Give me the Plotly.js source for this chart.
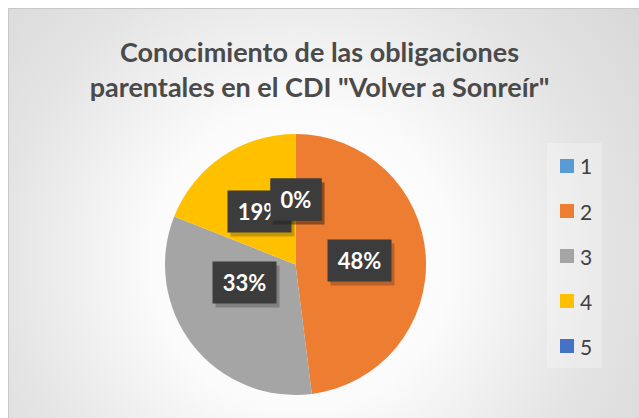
<!DOCTYPE html>
<html>
<head>
<meta charset="utf-8">
<script src="https://cdn.plot.ly/plotly-3.0.1.min.js"></script>
<style>
html,body{margin:0;padding:0;background:#ffffff;width:639px;height:418px;overflow:hidden;}
#bg{position:absolute;left:8px;top:8px;width:720px;height:500px;box-sizing:border-box;border-left:1px solid #c8c8c8;border-top:1px solid #c8c8c8;
background:radial-gradient(circle at 292px 250px,#ffffff 0px,#fbfbfb 150px,#e4e4e4 300px,#d3d3d3 470px);}
#chart{position:absolute;left:0;top:0;width:639px;height:418px;}
</style>
</head>
<body>
<div id="bg"></div>
<div id="chart"></div>
<script>
var categories = ['1', '2', '3', '4', '5'];
var values = [0, 48, 33, 19, 0];
var labelsText = ['0%', '48%', '33%', '19%', '0%'];
var colors = ['#5B9BD5', '#ED7D31', '#A5A5A5', '#FFC000', '#4472C4'];

var W = 639, H = 418;
var dom = {x: [165 / W, 426 / W], y: [1 - 395 / H, 1 - 134 / H]};
var cxPx = (dom.x[0] + dom.x[1]) / 2 * W;
var cyPx = (1 - (dom.y[0] + dom.y[1]) / 2) * H;
var Rpx = Math.min((dom.x[1] - dom.x[0]) * W, (dom.y[1] - dom.y[0]) * H) / 2;

var total = values.reduce(function (a, b) { return a + b; }, 0);
var annotations = [];
var cum = 0;
for (var i = 0; i < values.length; i++) {
  var mid = (cum + values[i] / 2) / total * 2 * Math.PI;
  cum += values[i];
  var r = 0.495 * Rpx;
  var px = cxPx + Math.sin(mid) * r;
  var py = cyPx - Math.cos(mid) * r;
  var bw = labelsText[i].length > 2 ? 63 : 50;
  var common = {xref: 'paper', yref: 'paper', x: px / W, y: 1 - py / H, showarrow: false,
    width: bw, height: 41, borderpad: 0, align: 'center', valign: 'middle'};
  annotations.push(Object.assign({}, common, {text: ' ', xshift: 3, yshift: -4,
    bgcolor: 'rgba(0,0,0,0.22)', font: {family: 'Lato', size: 21, color: 'rgba(0,0,0,0)'}}));
  annotations.push(Object.assign({}, common, {text: '<b>' + labelsText[i] + '</b>',
    bgcolor: '#3c3c3c', font: {family: 'Lato', size: 22, color: '#ffffff'}}));
}

var shapes = [];
shapes.push({type: 'rect', xref: 'paper', yref: 'paper', x0: 547 / W, x1: 602 / W, y0: 1 - 368 / H, y1: 1 - 143 / H,
  fillcolor: 'rgba(255,255,255,0.25)', line: {width: 0}, layer: 'below'});
for (var j = 0; j < categories.length; j++) {
  var ly = 166 + j * 45;
  shapes.push({type: 'rect', xref: 'paper', yref: 'paper', x0: 560 / W, x1: 574 / W,
    y0: 1 - (ly + 7) / H, y1: 1 - (ly - 7) / H, fillcolor: colors[j], line: {width: 0}});
  annotations.push({xref: 'paper', yref: 'paper', x: 578 / W, y: 1 - ly / H, xanchor: 'left', yanchor: 'middle',
    showarrow: false, text: categories[j], font: {family: 'Lato', size: 21, color: '#404040'}});
}

var data = [{
  type: 'pie', labels: categories, values: values, sort: false, direction: 'clockwise', rotation: 0,
  marker: {colors: colors, line: {width: 0}}, textinfo: 'none', hoverinfo: 'label+percent',
  domain: dom, showlegend: false
}];

var layout = {
  width: W, height: H, margin: {l: 0, r: 0, t: 0, b: 0},
  paper_bgcolor: 'rgba(0,0,0,0)', plot_bgcolor: 'rgba(0,0,0,0)',
  showlegend: false,
  title: {text: '<b>Conocimiento de las obligaciones<br>parentales en el CDI "Volver a Sonreír"</b>',
    x: 0.5, xanchor: 'center', y: 1 - 62 / H, yanchor: 'top',
    font: {family: 'Lato', size: 27, color: '#4a4a4a'}},
  annotations: annotations, shapes: shapes
};

Plotly.newPlot('chart', data, layout, {displayModeBar: false, staticPlot: true});
</script>
</body>
</html>
